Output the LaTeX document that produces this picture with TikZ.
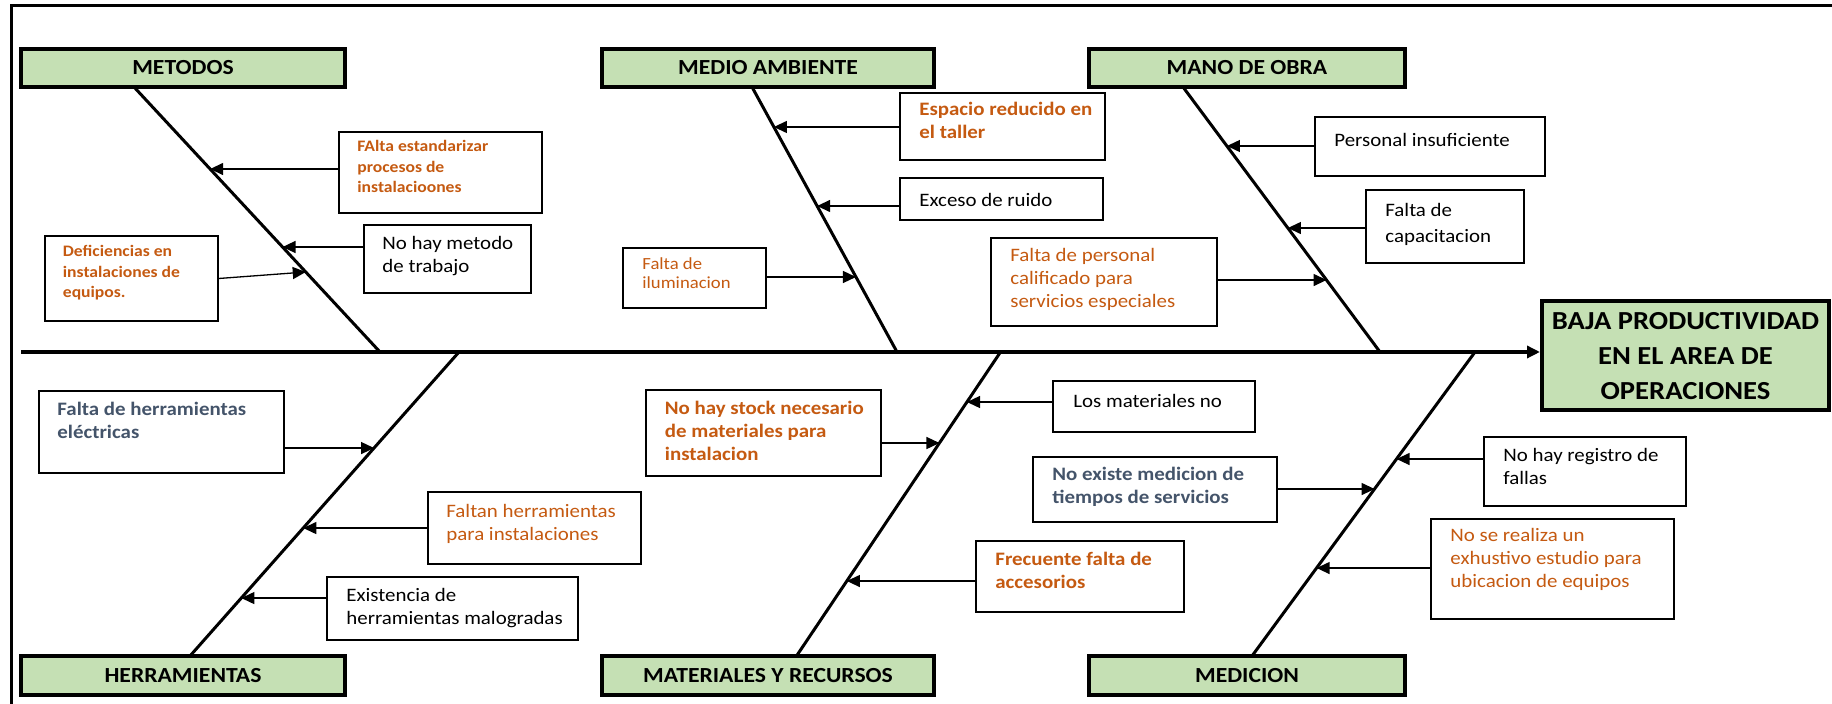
\documentclass[tikz,border=0pt]{standalone}
\usepackage{fontspec}
\setmainfont{Carlito}[FakeStretch=1.1]
\usetikzlibrary{arrows.meta,fit,calc}

\definecolor{catgreen}{HTML}{C5E0B4}
\definecolor{causeorange}{HTML}{C55A11}
\definecolor{causeslate}{HTML}{44546A}

% point where a horizontal line at height #3 meets bone #2
\newcommand{\bonepoint}[3]{%
  \coordinate (#1) at (intersection cs: first line={(#2s)--(#2e)}, second line={(0,#3)--(100,#3)});}

\begin{document}
\begin{tikzpicture}[x=0.5pt,y=-0.5pt,
  framestyle/.style={line width=1.5pt},
  spine/.style={line width=1.75pt,-{Triangle[length=6.5pt,width=6pt]}},
  bone/.style={line width=1.5pt},
  catbox/.style={draw=black,line width=1.85pt,fill=catgreen,inner sep=0pt,anchor=center,
    font=\fontsize{10.75}{13}\selectfont\bfseries},
  effectbox/.style={draw=black,line width=2pt,fill=catgreen,inner sep=0pt,align=center,anchor=center,
    font=\fontsize{13}{17.5}\selectfont\bfseries},
  cbox/.style={draw=black,line width=0.75pt,fill=white,inner sep=0pt},
  % text block whose first baseline sits on the given point
  ctext/.style={anchor=north west,align=left,inner sep=0pt,yshift=8pt,
    execute at begin node={\rule{0pt}{8pt}}},
  tnormal/.style={font=\fontsize{9.5}{11.5}\selectfont},
  tbold/.style={font=\fontsize{9.5}{11.5}\selectfont\bfseries},
  tsmallbold/.style={font=\fontsize{8}{10.25}\selectfont\bfseries},
  tsmall/.style={font=\fontsize{8.5}{9.5}\selectfont},
  txtorange/.style={text=causeorange},
  txtslate/.style={text=causeslate},
  carrow/.style={line width=0.65pt,-{Triangle[length=6.5pt,width=6pt]}}
]
\useasboundingbox (0,0) rectangle (1832,704);

% outer frame (top and left sides)
\draw[framestyle] (11.5,704) -- (11.5,5.5) -- (1832,5.5);

% effect box and spine
\node[effectbox,minimum width=143.5pt,minimum height=54.5pt] (eff) at (1685.5,356)
  {BAJA PRODUCTIVIDAD\\EN EL AREA DE\\OPERACIONES};
\coordinate (sp0) at (21,352);
\draw[spine] (sp0) -- (sp0 -| eff.west);

% category boxes
\node[catbox,minimum width=162pt,minimum height=19pt] (met) at (183,68)  {METODOS};
\node[catbox,minimum width=166pt,minimum height=19pt] (med) at (768,68)  {MEDIO AMBIENTE};
\node[catbox,minimum width=158pt,minimum height=19pt] (man) at (1247,68) {MANO DE OBRA};
\node[catbox,minimum width=162pt,minimum height=19.5pt] (her) at (183,675.5)  {HERRAMIENTAS};
\node[catbox,minimum width=166pt,minimum height=19.5pt] (mat) at (768,675.5)  {MATERIALES Y RECURSOS};
\node[catbox,minimum width=158pt,minimum height=19.5pt] (mdc) at (1247,675.5) {MEDICION};

% bones
\coordinate (b1s) at (134,87);   \coordinate (b1e) at (380,352);
\coordinate (b2s) at (752,87);   \coordinate (b2e) at (897,352);
\coordinate (b3s) at (1183,87);  \coordinate (b3e) at (1380,352);
\coordinate (b4s) at (190,656);  \coordinate (b4e) at (459,352);
\coordinate (b5s) at (796.5,656);\coordinate (b5e) at (1000.5,352);
\coordinate (b6s) at (1252,656); \coordinate (b6e) at (1475,352);
\foreach \b in {b1,b2,b3,b4,b5,b6} \draw[bone] (\b s) -- (\b e);

% ---- METODOS ----
\node[cbox,fit={(339,132)(542,213)}] (m1) {};
\node[ctext,tsmallbold,txtorange] (m1t) at (357,156) {FAlta  estandarizar\\procesos de\\instalacioones};
\node[cbox,fit={(364,225)(531,293)}] (m2) {};
\node[ctext,tnormal] (m2t) at (382,252) {No hay metodo\\de trabajo};
\node[cbox,fit={(45,236)(218,321)}] (m3) {};
\node[ctext,tsmallbold,txtorange] (m3t) at (62.5,261) {Deficiencias en\\instalaciones  de\\equipos.};
\bonepoint{t1}{b1}{169}
\bonepoint{t2}{b1}{247}
\bonepoint{t3}{b1}{272}
\draw[carrow] (m1.west |- t1) -- (t1);
\draw[carrow] (m2.west |- t2) -- (t2);
\draw[carrow] (m3.east) -- (t3);

% ---- MEDIO AMBIENTE ----
\node[cbox,fit={(900,93)(1105,160)}] (e1) {};
\node[ctext,tbold,txtorange] (e1t) at (919,118) {Espacio reducido en\\el taller};
\node[cbox,fit={(900,178)(1103,220)}] (e2) {};
\node[ctext,tnormal] (e2t) at (919,206) {Exceso de ruido};
\node[cbox,fit={(623,248)(766,308)}] (e3) {};
\node[ctext,tsmall,txtorange] (e3t) at (642,273) {Falta  de\\iluminacion};
\bonepoint{t4}{b2}{127}
\bonepoint{t5}{b2}{206}
\bonepoint{t6}{b2}{277}
\draw[carrow] (e1.west |- t4) -- (t4);
\draw[carrow] (e2.west |- t5) -- (t5);
\draw[carrow] (e3.east |- t6) -- (t6);

% ---- MANO DE OBRA ----
\node[cbox,fit={(991,238)(1217,326)}] (o3) {};
\node[ctext,tnormal,txtorange] (o3t) at (1010,264) {Falta de personal\\calificado para\\servicios  especiales};
\node[cbox,fit={(1315,117)(1545,176)}] (o1) {};
\node[ctext,tnormal] (o1t) at (1334,146) {Personal insuficiente};
\node[cbox,fit={(1366,190)(1524,263)}] (o2) {};
\node[ctext,tnormal] (o2t) at (1385,219) {Falta de\\[1.5pt]capacitacion};
\bonepoint{t7}{b3}{146}
\bonepoint{t8}{b3}{228}
\bonepoint{t9}{b3}{280}
\draw[carrow] (o1.west |- t7) -- (t7);
\draw[carrow] (o2.west |- t8) -- (t8);
\draw[carrow] (o3.east |- t9) -- (t9);

% ---- HERRAMIENTAS ----
\node[cbox,fit={(39,391)(284,473)}] (h1) {};
\node[ctext,tbold,txtslate] (h1t) at (57,418) {Falta de herramientas\\eléctricas};
\node[cbox,fit={(428,492)(641,564)}] (h2) {};
\node[ctext,tnormal,txtorange] (h2t) at (446,520) {Faltan herramientas\\para instalaciones};
\node[cbox,fit={(327,577)(578,640)}] (h3) {};
\node[ctext,tnormal] (h3t) at (346,604) {Existencia de\\herramientas malogradas};
\bonepoint{t10}{b4}{448}
\bonepoint{t11}{b4}{528}
\bonepoint{t12}{b4}{598}
\draw[carrow] (h1.east |- t10) -- (t10);
\draw[carrow] (h2.west |- t11) -- (t11);
\draw[carrow] (h3.west |- t12) -- (t12);

% ---- MATERIALES Y RECURSOS ----
\node[cbox,fit={(646,390)(881,476)}] (r1) {};
\node[ctext,tbold,txtorange] (r1t) at (664.5,417) {No hay stock necesario\\de materiales para\\instalacion};
\node[cbox,fit={(1053,381)(1255,432)}] (r2) {};
\node[ctext,tnormal] (r2t) at (1073,407) {Los materiales no};
\node[cbox,fit={(976,541)(1184,612)}] (r3) {};
\node[ctext,tbold,txtorange] (r3t) at (995,568) {Frecuente  falta de\\accesorios};
\bonepoint{t13}{b5}{443}
\bonepoint{t14}{b5}{402}
\bonepoint{t15}{b5}{581}
\draw[carrow] (r1.east |- t13) -- (t13);
\draw[carrow] (r2.west |- t14) -- (t14);
\draw[carrow] (r3.west |- t15) -- (t15);

% ---- MEDICION ----
\node[cbox,fit={(1033,457)(1277,522)}] (d1) {};
\node[ctext,tbold,txtslate] (d1t) at (1052,483) {No existe medicion de\\tiempos de servicios};
\node[cbox,fit={(1484,437)(1686,506)}] (d2) {};
\node[ctext,tnormal] (d2t) at (1503,464) {No hay registro de\\fallas};
\node[cbox,fit={(1431,519)(1674,619)}] (d3) {};
\node[ctext,tnormal,txtorange] (d3t) at (1450,544) {No se realiza un\\exhustivo estudio para\\ubicacion de equipos};
\bonepoint{t16}{b6}{489}
\bonepoint{t17}{b6}{459}
\bonepoint{t18}{b6}{568}
\draw[carrow] (d1.east |- t16) -- (t16);
\draw[carrow] (d2.west |- t17) -- (t17);
\draw[carrow] (d3.west |- t18) -- (t18);

\end{tikzpicture}
\end{document}
